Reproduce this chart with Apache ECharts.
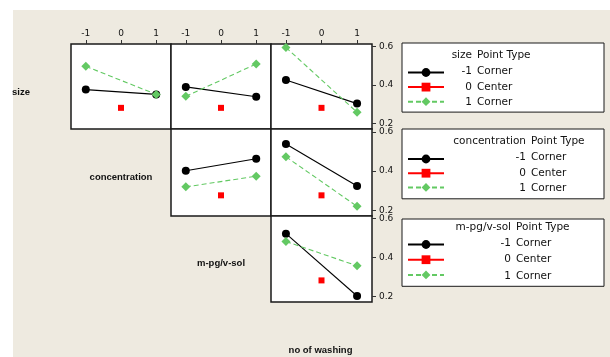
<!DOCTYPE html>
<html>
<head>
<meta charset="utf-8">
<script src="https://cdn.jsdelivr.net/npm/echarts@6/dist/echarts.min.js"></script>
<style>
  html, body { margin: 0; padding: 0; background: #ffffff; }
  #wrap { position: relative; width: 610px; height: 357px; }
  #paper { position: absolute; left: 13px; top: 10px; right: 0; bottom: 0; background: #eeeae0; }
  #chart { position: absolute; left: 0; top: 0; width: 610px; height: 357px; }
</style>
</head>
<body>
<div id="wrap">
  <div id="paper"></div>
  <div id="chart"></div>
</div>
<script>
// Factor names, in matrix order
const factors = ['size', 'concentration', 'm-pg/v-sol', 'no of washing'];
const pointLevels = ['-1', '0', '1'];
const pointTypes = ['Corner', 'Center', 'Corner'];

// Coded levels of the column factor and axis ticks
const cornerX = [-1, 1];
const centerX = 0;
const tickX = [-1, 0, 1];
const tickY = [0.2, 0.4, 0.6];

// Means: row factor at -1 (low), at +1 (high), and the centre point
const sizeConcLow = [0.377, 0.352];
const sizeConcHigh = [0.498, 0.352];
const sizeConcCenter = 0.282;

const sizeSolLow = [0.391, 0.340];
const sizeSolHigh = [0.342, 0.510];
const sizeSolCenter = 0.282;

const sizeWashLow = [0.427, 0.304];
const sizeWashHigh = [0.596, 0.259];
const sizeWashCenter = 0.282;

const concSolLow = [0.402, 0.463];
const concSolHigh = [0.320, 0.374];
const concSolCenter = 0.277;

const concWashLow = [0.538, 0.324];
const concWashHigh = [0.473, 0.221];
const concWashCenter = 0.277;

const solWashLow = [0.523, 0.203];
const solWashHigh = [0.483, 0.358];
const solWashCenter = 0.283;

// Panel layout of the upper triangle
const colLeft = [71, 171, 271];
const colWidth = [100, 100, 101];
const rowTop = [44, 129, 216];
const rowHeight = [85, 87, 86];

const panels = [
  { row: 0, col: 0, low: sizeConcLow, high: sizeConcHigh, center: sizeConcCenter },
  { row: 0, col: 1, low: sizeSolLow, high: sizeSolHigh, center: sizeSolCenter },
  { row: 0, col: 2, low: sizeWashLow, high: sizeWashHigh, center: sizeWashCenter },
  { row: 1, col: 1, low: concSolLow, high: concSolHigh, center: concSolCenter },
  { row: 1, col: 2, low: concWashLow, high: concWashHigh, center: concWashCenter },
  { row: 2, col: 2, low: solWashLow, high: solWashHigh, center: solWashCenter }
];

const black = '#000000';
const red = '#ff0000';
const green = '#63c963';
const axisFont = 'DejaVu Sans';

const grid = [], xAxis = [], yAxis = [], series = [];

panels.forEach((p, i) => {
  grid.push({
    left: colLeft[p.col], top: rowTop[p.row],
    width: colWidth[p.col], height: rowHeight[p.row],
    show: true, backgroundColor: '#ffffff',
    borderColor: '#1a1a1a', borderWidth: 1.5
  });
  const topRow = p.row === 0;
  const lastCol = p.col === 2;
  xAxis.push({
    gridIndex: i, type: 'value', position: 'top',
    min: -1.42, max: 1.42,
    axisLine: { show: false, onZero: false },
    splitLine: { show: false },
    axisTick: { show: topRow, customValues: tickX, length: 4, lineStyle: { color: '#333' } },
    axisLabel: { show: topRow, customValues: tickX, fontSize: 9, fontFamily: axisFont, color: '#111', margin: 6 }
  });
  yAxis.push({
    gridIndex: i, type: 'value', position: 'right',
    min: 0.172, max: 0.614,
    axisLine: { show: false, onZero: false },
    splitLine: { show: false },
    axisTick: { show: lastCol, customValues: tickY, length: 4, lineStyle: { color: '#333' } },
    axisLabel: {
      show: lastCol, customValues: tickY, fontSize: 9, fontFamily: axisFont, color: '#111', margin: 7,
      formatter: v => v.toFixed(1)
    }
  });
  const f = factors[p.row];
  series.push({
    name: f + ' ' + pointLevels[0], type: 'line', xAxisIndex: i, yAxisIndex: i,
    data: cornerX.map((x, k) => [x, p.low[k]]),
    symbol: 'circle', symbolSize: 8,
    lineStyle: { color: black, width: 1.1 }, itemStyle: { color: black }
  });
  series.push({
    name: f + ' ' + pointLevels[1], type: 'line', xAxisIndex: i, yAxisIndex: i,
    data: [[centerX, p.center]],
    symbol: 'rect', symbolSize: 6,
    lineStyle: { color: red, width: 1 }, itemStyle: { color: red }
  });
  series.push({
    name: f + ' ' + pointLevels[2], type: 'line', xAxisIndex: i, yAxisIndex: i,
    data: cornerX.map((x, k) => [x, p.high[k]]),
    symbol: 'diamond', symbolSize: 9,
    lineStyle: { color: green, width: 1.1, type: [5, 3] }, itemStyle: { color: green }
  });
});

// Legend boxes, one per row factor: icons come from the legend, text is laid out in two columns
const legendBoxes = [
  { factor: factors[0], top: 43, colA: 24, padTop: 24, padBottom: 6, gap: 4.7, headY: 55.5, rowY: [71.3, 86.9, 102.6] },
  { factor: factors[1], top: 129, colA: 78, padTop: 24.5, padBottom: 7, gap: 4.3, headY: 141, rowY: [157.6, 172.9, 188.3] },
  { factor: factors[2], top: 219, colA: 63, padTop: 20, padBottom: 7, gap: 5.3, headY: 227.5, rowY: [243.4, 259.7, 276] }
];
const legendFont = '10.5px "DejaVu Sans"';
const legend = legendBoxes.map(b => ({
  orient: 'vertical', left: 402, top: b.top,
  data: pointLevels.map(l => b.factor + ' ' + l),
  itemWidth: 36, itemHeight: 11, itemGap: b.gap,
  padding: [b.padTop, 159, b.padBottom, 5],
  backgroundColor: '#ffffff', borderColor: '#1a1a1a', borderWidth: 1, borderRadius: 0,
  selectedMode: false,
  formatter: () => ''
}));

const graphic = [];
const addText = (text, x, y, align, font) => graphic.push({
  type: 'text', z: 100,
  style: { text, x, y, align, verticalAlign: 'middle', font, fill: '#111' }
});
legendBoxes.forEach(b => {
  addText(b.factor, 448 + b.colA, b.headY, 'right', legendFont);
  addText('Point Type', 453 + b.colA, b.headY, 'left', legendFont);
  pointLevels.forEach((l, k) => {
    addText(l, 448 + b.colA, b.rowY[k], 'right', legendFont);
    addText(pointTypes[k], 453 + b.colA, b.rowY[k], 'left', legendFont);
  });
});

// Factor names on the diagonal of the matrix
const diagPos = [[21, 92], [121, 177.5], [221, 263.5], [320.5, 350.5]];
factors.forEach((f, i) => {
  addText(f, diagPos[i][0], diagPos[i][1], 'center', 'bold 9.5px "Liberation Sans"');
});

const chart = echarts.init(document.getElementById('chart'), null, { renderer: 'canvas' });
chart.setOption({
  backgroundColor: 'transparent',
  animation: false,
  grid, xAxis, yAxis, series, legend, graphic
});
</script>
</body>
</html>
